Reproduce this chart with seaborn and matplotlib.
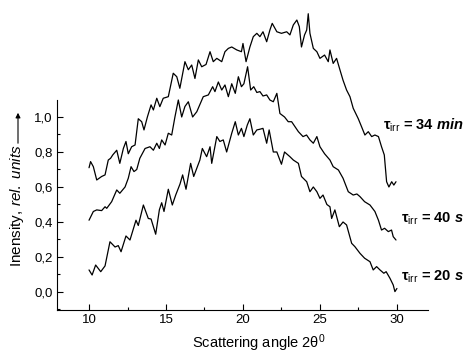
import numpy as np
import pandas as pd
import seaborn as sns
import matplotlib
matplotlib.use('Agg')
import matplotlib.pyplot as plt
from matplotlib.ticker import MultipleLocator, FuncFormatter

# Scattering curves
x20 = [10.0, 10.2, 10.43, 10.76, 11.04, 11.36, 11.69, 11.9, 12.08, 12.4, 12.66, 13.05, 13.2, 13.53,
       13.85, 14.03, 14.33, 14.57, 14.72, 14.87, 15.15, 15.41, 15.63, 15.91, 16.08, 16.3, 16.6, 16.8,
       17.2, 17.36, 17.64, 17.86, 17.97, 18.3, 18.5, 18.72, 18.94, 19.27, 19.5, 19.7, 19.9, 20.06,
       20.28, 20.45, 20.67, 20.9, 21.1, 21.3, 21.54, 21.7, 21.97, 22.2, 22.5, 22.7, 23.05, 23.27,
       23.6, 23.8, 24.14, 24.35, 24.57, 24.8, 25.0, 25.2, 25.45, 25.65, 25.76, 25.97, 26.26, 26.5,
       26.73, 27.06, 27.27, 27.6, 27.9, 28.25, 28.46, 28.68, 28.9, 29.15, 29.3, 29.55, 29.76, 29.87, 30.0]
y20 = [0.126, 0.097, 0.154, 0.116, 0.149, 0.287, 0.257, 0.265, 0.23, 0.32, 0.297, 0.41, 0.38, 0.497,
       0.42, 0.417, 0.33, 0.47, 0.51, 0.46, 0.587, 0.497, 0.554, 0.617, 0.669, 0.587, 0.735, 0.66,
       0.754, 0.82, 0.773, 0.83, 0.735, 0.888, 0.86, 0.869, 0.80, 0.907, 0.973, 0.897, 0.935, 0.888,
       0.954, 0.99, 0.897, 0.926, 0.93, 0.935, 0.85, 0.926, 0.80, 0.80, 0.73, 0.80, 0.773, 0.754,
       0.735, 0.66, 0.63, 0.573, 0.60, 0.573, 0.535, 0.554, 0.50, 0.487, 0.42, 0.469, 0.373, 0.40,
       0.383, 0.278, 0.259, 0.221, 0.193, 0.173, 0.126, 0.145, 0.126, 0.107, 0.116, 0.078, 0.04, 0.002, 0.02]

x40 = [10.0, 10.28, 10.5, 10.82, 11.04, 11.15, 11.47, 11.8, 12.0, 12.34, 12.55, 12.73, 12.92, 13.1,
       13.3, 13.64, 13.96, 14.18, 14.4, 14.57, 14.72, 14.94, 15.15, 15.37, 15.58, 15.8, 16.02, 16.23,
       16.45, 16.73, 17.0, 17.42, 17.75, 18.03, 18.18, 18.4, 18.62, 18.83, 19.05, 19.27, 19.5, 19.7,
       19.9, 20.06, 20.3, 20.5, 20.7, 20.9, 21.1, 21.3, 21.54, 21.75, 21.97, 22.2, 22.4, 22.7, 22.94,
       23.16, 23.6, 23.9, 24.13, 24.35, 24.57, 24.8, 25.0, 25.3, 25.65, 25.86, 26.2, 26.5, 26.84,
       27.16, 27.4, 27.6, 27.9, 28.25, 28.57, 28.8, 29.0, 29.2, 29.44, 29.65, 29.76, 29.94]
y40 = [0.41, 0.46, 0.469, 0.465, 0.487, 0.478, 0.516, 0.583, 0.564, 0.60, 0.65, 0.716, 0.688, 0.70,
       0.764, 0.82, 0.83, 0.81, 0.85, 0.82, 0.869, 0.84, 0.907, 0.897, 1.0, 1.097, 1.0, 1.06,
       1.087, 1.0, 1.03, 1.116, 1.126, 1.173, 1.145, 1.2, 1.154, 1.183, 1.116, 1.19, 1.135, 1.23,
       1.173, 1.19, 1.287, 1.154, 1.173, 1.14, 1.145, 1.12, 1.126, 1.097, 1.087, 1.135, 1.02, 1.0, 0.973,
       0.973, 0.916, 0.888, 0.897, 0.869, 0.85, 0.888, 0.83, 0.79, 0.754, 0.716, 0.697, 0.65, 0.573,
       0.554, 0.56, 0.545, 0.516, 0.497, 0.46, 0.41, 0.354, 0.364, 0.345, 0.354, 0.316, 0.297]

x34 = [10.0, 10.1, 10.28, 10.5, 10.82, 11.04, 11.25, 11.4, 11.54, 11.8, 12.0, 12.23, 12.4, 12.55,
       12.77, 12.99, 13.2, 13.42, 13.57, 13.79, 14.03, 14.18, 14.4, 14.6, 14.82, 15.15, 15.47, 15.7,
       15.9, 16.23, 16.45, 16.67, 16.88, 17.1, 17.32, 17.6, 17.86, 18.07, 18.3, 18.62, 18.83, 19.05,
       19.27, 19.6, 19.9, 20.0, 20.2, 20.45, 20.67, 20.9, 21.1, 21.3, 21.54, 21.75, 21.9, 22.2, 22.5,
       22.84, 23.05, 23.27, 23.5, 23.66, 23.8, 24.0, 24.14, 24.24, 24.35, 24.57, 24.8, 25.0, 25.3,
       25.54, 25.65, 25.86, 26.08, 26.3, 26.5, 26.73, 26.95, 27.16, 27.49, 27.7, 27.92, 28.14, 28.36,
       28.57, 28.8, 29.0, 29.18, 29.33, 29.48, 29.66, 29.8, 29.94]
y34 = [0.71, 0.745, 0.716, 0.64, 0.66, 0.669, 0.754, 0.764, 0.783, 0.81, 0.735, 0.82, 0.86, 0.79,
       0.83, 0.84, 0.99, 0.973, 0.926, 1.0, 1.069, 1.04, 1.107, 1.059, 1.107, 1.116, 1.25, 1.23,
       1.164, 1.316, 1.27, 1.297, 1.22, 1.326, 1.287, 1.30, 1.373, 1.316, 1.335, 1.316, 1.373, 1.392,
       1.4, 1.383, 1.373, 1.42, 1.316, 1.4, 1.459, 1.478, 1.459, 1.487, 1.43, 1.497, 1.535, 1.487, 1.478,
       1.487, 1.469, 1.526, 1.554, 1.516, 1.4, 1.469, 1.497, 1.59, 1.478, 1.392, 1.373, 1.335, 1.354,
       1.316, 1.383, 1.306, 1.335, 1.269, 1.21, 1.154, 1.116, 1.05, 0.99, 0.945, 0.897, 0.916, 0.888,
       0.897, 0.888, 0.83, 0.783, 0.63, 0.60, 0.63, 0.611, 0.63]

labels = ['$\\mathbf{\\tau}_{\\mathrm{irr}}$ = 34 $\\mathbfit{min}$',
          '$\\mathbf{\\tau}_{\\mathrm{irr}}$ = 40 $\\mathbfit{s}$',
          '$\\mathbf{\\tau}_{\\mathrm{irr}}$ = 20 $\\mathbfit{s}$']
label_pos = [(29.1, 0.955), (30.25, 0.42), (30.25, 0.087)]

sns.set_style('ticks')
plt.rcParams['font.family'] = ['Liberation Sans', 'DejaVu Sans']
plt.rcParams['mathtext.fontset'] = 'custom'
plt.rcParams['mathtext.rm'] = 'Liberation Sans'
plt.rcParams['mathtext.it'] = 'Liberation Sans:italic'
plt.rcParams['mathtext.bf'] = 'Liberation Sans:bold'
plt.rcParams['mathtext.bfit'] = 'Liberation Sans:bold:italic'
for key in ['text.color', 'axes.labelcolor', 'xtick.color', 'ytick.color', 'axes.edgecolor']:
    plt.rcParams[key] = 'black'

fig = plt.figure(figsize=(4.65, 3.53), dpi=100)
ax = fig.add_axes([0.1226, 0.1218, 0.7972, 0.5949])

for xs, ys in [(x20, y20), (x40, y40), (x34, y34)]:
    sns.lineplot(x=xs, y=ys, ax=ax, color='black', linewidth=0.9, sort=False)
for line in ax.lines:
    line.set_clip_on(False)

ax.set_xlim(7.92, 32.0)
ax.set_ylim(-0.103, 1.097)
sns.despine(ax=ax)
ax.spines['left'].set_linewidth(0.8)
ax.spines['bottom'].set_linewidth(0.8)

ax.xaxis.set_major_locator(MultipleLocator(5))
ax.xaxis.set_minor_locator(MultipleLocator(2.5))
ax.yaxis.set_major_locator(MultipleLocator(0.2))
ax.yaxis.set_minor_locator(MultipleLocator(0.1))
ax.yaxis.set_major_formatter(FuncFormatter(lambda v, p: f'{v:.1f}'.replace('-0.0', '0.0').replace('.', ',')))
ax.tick_params(which='major', direction='in', length=4, width=0.8, labelsize=9.5, pad=3)
ax.tick_params(which='minor', direction='in', length=2, width=0.8)

ax.set_xlabel('Scattering angle 2θ$^0$', fontsize=10.5, va='center')
ax.xaxis.set_label_coords(0.545, -0.158)
fig.text(17 / 465, 1 - 206 / 353, 'Inensity, $\\mathit{rel.\\ units}$', rotation=90,
         ha='center', va='center', fontsize=11)
ax.annotate('', xy=(18 / 465, 1 - 110 / 353), xytext=(18 / 465, 1 - 146 / 353),
            xycoords='figure fraction', textcoords='figure fraction',
            arrowprops=dict(arrowstyle='-|>', lw=0.8, color='black', mutation_scale=7))

for txt, (tx, ty) in zip(labels, label_pos):
    ax.text(tx, ty, txt, fontsize=10.5, fontweight='bold', ha='left', va='center', clip_on=False)

fig.savefig('out.png', dpi=100)
